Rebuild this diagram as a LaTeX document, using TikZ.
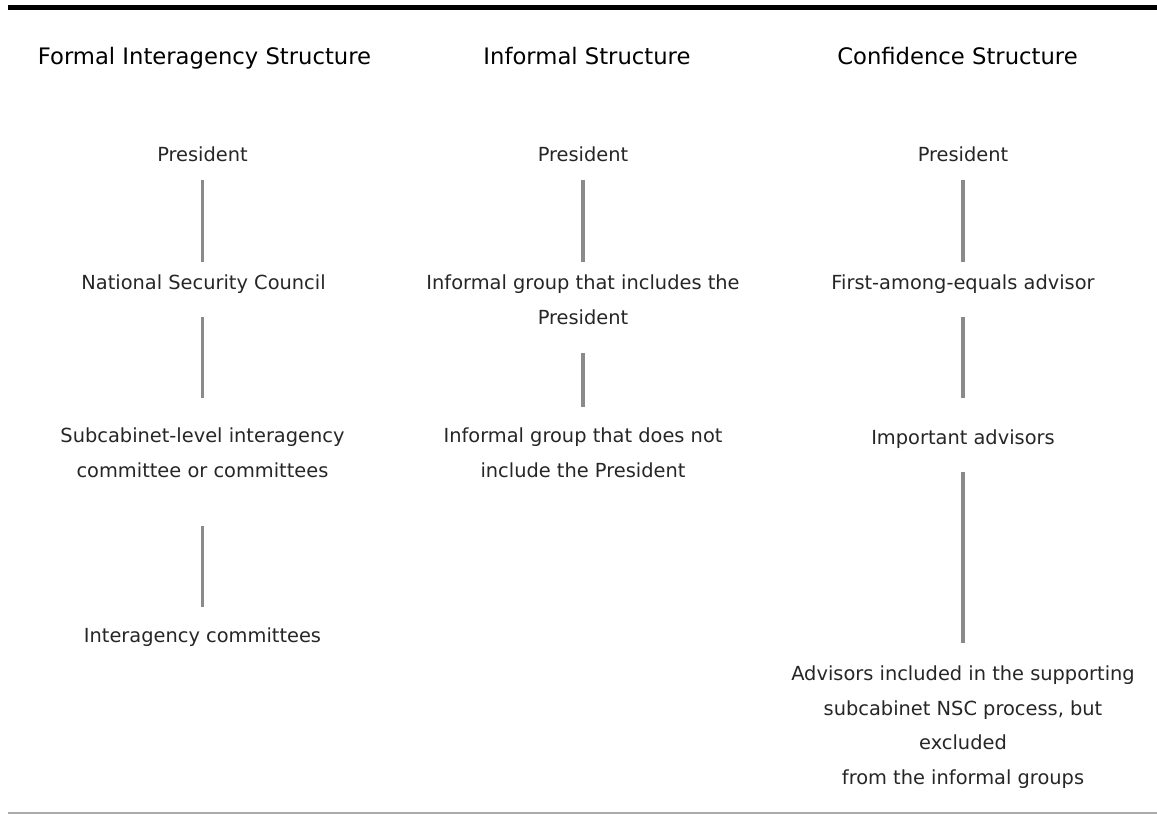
\documentclass[tikz,border=0pt]{standalone}
\usepackage{fontspec}
\setmainfont{DejaVu Sans}
\begin{document}
\begin{tikzpicture}[x=1pt,y=-1pt,
  heading/.style={anchor=north, inner sep=0pt, text=black,
    font=\fontsize{22.7pt}{30pt}\selectfont,
    execute at begin node={\rule{0pt}{18pt}}},
  entry/.style={anchor=north, inner sep=0pt, align=center, text=black!85,
    font=\fontsize{19.4pt}{34.5pt}\selectfont,
    execute at begin node={\rule{0pt}{15pt}},
    execute at end node={\rule[-5pt]{0pt}{5pt}}},
  conn/.style={draw=black!46, line width=3.6pt},
  toprule/.style={draw=black, line width=4.5pt},
  bottomrule/.style={draw=black!33, line width=1.6pt}]
\useasboundingbox (0,0) rectangle (1157,814);

% frame rules
\draw[toprule] (8,7.5) -- (1157,7.5);
\draw[bottomrule] (8,813) -- (1157,813);

% column headings
\node[heading] (h1) at (204.5,46) {Formal Interagency Structure};
\node[heading] (h2) at (587,46) {Informal Structure};
\node[heading] (h3) at (957.5,46) {Confidence Structure};

% formal structure
\node[entry] (pres1) at (202.5,146) {President};
\node[entry] (nsc) at (203.5,274) {National Security Council};
\node[entry] (sub) at (202.5,428) {Subcabinet-level interagency\\committee or committees};
\node[entry] (inter) at (202.5,627) {Interagency committees};

% informal structure
\node[entry] (pres2) at (583,146) {President};
\node[entry] (ig1) at (583,275) {Informal group that includes the\\President};
\node[entry] (ig2) at (583,428) {Informal group that does not\\include the President};

% confidence structure
\node[entry] (pres3) at (963,146) {President};
\node[entry] (first) at (963,274) {First-among-equals advisor};
\node[entry] (imp) at (963,429) {Important advisors};
\node[entry] (adv) at (963,666) {Advisors included in the supporting\\subcabinet NSC process, but\\excluded\\from the informal groups};

% links
\draw[conn] ([yshift=-14pt]pres1.south) -- ([yshift=12pt]nsc.north -| pres1.south);
\draw[conn] ([yshift=-23pt]nsc.south -| pres1.south) -- ([yshift=30pt]sub.north);
\draw[conn] ([yshift=-43.5pt]sub.south) -- ([yshift=20pt]inter.north);

\draw[conn] ([yshift=-14pt]pres2.south) -- ([yshift=13pt]ig1.north);
\draw[conn] ([yshift=-23.5pt]ig1.south) -- ([yshift=21pt]ig2.north);

\draw[conn] ([yshift=-14pt]pres3.south) -- ([yshift=12pt]first.north);
\draw[conn] ([yshift=-23pt]first.south) -- ([yshift=31pt]imp.north);
\draw[conn] ([yshift=-23pt]imp.south) -- ([yshift=23pt]adv.north);
\end{tikzpicture}
\end{document}
